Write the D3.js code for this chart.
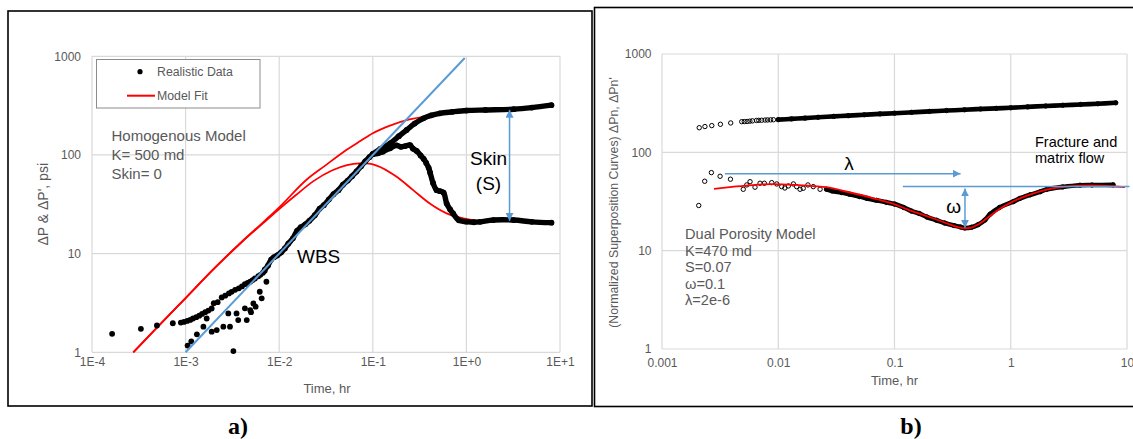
<!DOCTYPE html>
<html>
<head>
<meta charset="utf-8">
<script src="https://cdn.jsdelivr.net/npm/d3@7"></script>
<style>
  body { margin: 0; background: #fff; }
  svg { display: block; font-family: 'Liberation Sans', Arial, sans-serif; }
</style>
</head>
<body>
<div id="chart"></div>
<script>
// ---------- Panel a) homogeneous model ----------
const aTimeTicks = [1e-4, 1e-3, 1e-2, 1e-1, 1, 10];
const aTimeLabels = ['1E-4', '1E-3', '1E-2', '1E-1', '1E+0', '1E+1'];
const aValueTicks = [1, 10, 100, 1000];

// early scattered pressure points
const aPressureSparse = [[1.64e-4, 1.54], [3.33e-4, 1.73], [4.94e-4, 1.87], [7.3e-4, 1.97]];
// early pressure row
const aPressureRow = [
  [8.9e-4, 2.0], [9.6e-4, 2.03], [1.04e-3, 2.08], [1.12e-3, 2.13], [1.2e-3, 2.2], [1.3e-3, 2.27],
  [1.4e-3, 2.35], [1.5e-3, 2.45], [1.62e-3, 2.55], [1.75e-3, 2.65], [1.9e-3, 2.78], [2.0e-3, 3.15],
  [2.2e-3, 3.22], [2.43e-3, 3.6], [2.65e-3, 3.75], [2.9e-3, 3.95], [3.1e-3, 4.1], [3.38e-3, 4.3],
  [3.7e-3, 4.45], [4.0e-3, 4.65], [4.3e-3, 4.9], [4.6e-3, 5.05], [4.9e-3, 5.2], [5.2e-3, 5.4],
  [5.5e-3, 5.6], [5.98e-3, 5.9], [6.3e-3, 6.1], [6.7e-3, 6.4], [7.0e-3, 6.7]
];
// early scattered derivative points
const aDerivSparse = [
  [1.05e-3, 1.17], [1.15e-3, 1.29], [1.32e-3, 1.52], [1.55e-3, 1.82], [1.68e-3, 2.2], [1.9e-3, 1.62],
  [2.15e-3, 1.68], [2.53e-3, 1.82], [2.86e-3, 2.48], [2.98e-3, 1.82], [3.24e-3, 1.03], [3.5e-3, 2.48],
  [3.65e-3, 2.12], [4.3e-3, 2.79], [4.5e-3, 2.12], [4.9e-3, 2.68], [5.0e-3, 2.55], [5.3e-3, 3.13],
  [5.6e-3, 2.9], [6.2e-3, 4.11], [6.5e-3, 3.52], [7.3e-3, 5.19]
];
// merged data along the wellbore storage line
const aMainDense = [
  [7e-3, 6.9], [7.6e-3, 7.6], [8.2e-3, 8.7], [8.8e-3, 9.2], [9.5e-3, 9.6], [1.05e-2, 10.3],
  [1.15e-2, 11.3], [1.25e-2, 12.6], [1.4e-2, 14.3], [1.55e-2, 17.0], [1.7e-2, 18.5], [1.9e-2, 19.8],
  [2.1e-2, 21.5], [2.4e-2, 24.5], [2.7e-2, 28.5], [3.0e-2, 31], [3.4e-2, 35.5], [3.8e-2, 40],
  [4.3e-2, 44], [4.8e-2, 50], [5.4e-2, 55], [6.0e-2, 61], [6.7e-2, 68], [7.5e-2, 77],
  [8.3e-2, 86], [9.2e-2, 95], [0.1, 102]
];
const aPressureLate = [
  [0.1, 102], [0.12, 115], [0.153, 131], [0.19, 155], [0.23, 179], [0.28, 208], [0.347, 235],
  [0.42, 252], [0.52, 264], [0.7, 273], [1.0, 282], [1.6, 286], [3.2, 291], [5, 302], [8.1, 320]
];
const aDerivLate = [
  [0.1, 102], [0.113, 104], [0.128, 108], [0.153, 117], [0.18, 125], [0.2, 121], [0.222, 123],
  [0.25, 126], [0.268, 116], [0.294, 110], [0.324, 99], [0.35, 91], [0.372, 83], [0.395, 74],
  [0.41, 66], [0.44, 52], [0.48, 44], [0.52, 43], [0.57, 41.5], [0.615, 32.3], [0.67, 28],
  [0.72, 25.5], [0.83, 21.8], [1.0, 21.1], [1.2, 20.8], [1.4, 21], [1.94, 21.9], [3.2, 21.9],
  [5, 21], [8.1, 20.6]
];
const aModelPressure = [
  [2.76e-4, 1], [5e-4, 1.8], [1e-3, 3.55], [2e-3, 7], [4e-3, 13.2], [7e-3, 21.5], [0.01, 29.5],
  [0.02, 57], [0.031, 78], [0.049, 108], [0.075, 140], [0.1, 166], [0.15, 197], [0.24, 228], [0.39, 246]
];
const aModelDeriv = [
  [2.76e-4, 1], [5e-4, 1.8], [1e-3, 3.55], [2e-3, 7], [4e-3, 13.2], [7e-3, 21], [0.01, 28.3],
  [0.015, 39], [0.023, 54], [0.037, 70], [0.053, 79], [0.072, 82], [0.086, 82], [0.11, 78],
  [0.18, 60], [0.27, 44], [0.41, 32], [0.615, 25.6], [0.93, 22.8], [1.4, 21.5], [3.2, 21.3], [8.1, 20.3]
];
const aWbsLine = [[1e-3, 1], [0.96, 960]];
const aSkinArrow = [[2.89, 287], [2.89, 21.5]];

// ---------- Panel b) dual porosity model ----------
const bTimeTicks = [0.001, 0.01, 0.1, 1, 10];
const bTimeLabels = ['0.001', '0.01', '0.1', '1', '10'];
const bValueTicks = [1, 10, 100, 1000];

const bPressure = [
  [2.09e-3, 178], [2.34e-3, 183], [2.68e-3, 187], [3.18e-3, 193], [3.9e-3, 199],
  [4.85e-3, 205], [5.1e-3, 205.5], [5.4e-3, 206], [5.7e-3, 207.5], [6.0e-3, 209], [6.5e-3, 211],
  [6.8e-3, 211.5], [7.2e-3, 212], [7.7e-3, 213], [8.1e-3, 213.5], [8.6e-3, 214], [9.1e-3, 214.5],
  [0.01, 215], [0.013, 219], [0.017, 223], [0.022, 227], [0.03, 232], [0.04, 236], [0.055, 241],
  [0.075, 246], [0.1, 250], [0.14, 255], [0.2, 261], [0.28, 266], [0.4, 271], [0.55, 276],
  [0.75, 280], [1, 284], [1.4, 290], [2, 296], [2.8, 301], [4, 307], [5.6, 312], [8, 319]
];
const bDeriv = [
  [2.07e-3, 28.8], [2.33e-3, 50.8], [2.66e-3, 62.2], [3.16e-3, 57.1], [3.88e-3, 53.3],
  [5.0e-3, 42.1], [5.36e-3, 46.6], [5.72e-3, 50.3], [6.31e-3, 44.2], [6.97e-3, 48.5], [7.59e-3, 48.5],
  [8.79e-3, 49.2], [9.7e-3, 47.7], [0.0107, 44.8], [0.0114, 43.4], [0.0122, 45.5], [0.0135, 47.7],
  [0.0144, 44.8], [0.0154, 42.1], [0.0164, 43.1], [0.018, 46.6], [0.02, 44.8], [0.0229, 42.1],
  [0.026, 42.1], [0.029, 40.5], [0.035, 39], [0.041, 37.5], [0.05, 35.5], [0.058, 34], [0.07, 32.5],
  [0.085, 31], [0.1, 29.8], [0.12, 27.5], [0.14, 25.3], [0.163, 23.9], [0.19, 22], [0.23, 20.4],
  [0.27, 19.1], [0.325, 18.0], [0.37, 17.4], [0.404, 17.0], [0.46, 17.3], [0.525, 18.4], [0.6, 20.5],
  [0.664, 23.5], [0.8, 27.5], [1.05, 31.5], [1.2, 34], [1.47, 37], [1.8, 39.8], [2.04, 42],
  [2.8, 44.5], [3.94, 46.3], [5, 46.5], [7.6, 46.7]
];
const bModel = [
  [2.8e-3, 42.6], [4e-3, 44.5], [6e-3, 46.5], [9e-3, 47.5], [0.014, 46.6], [0.02, 45.3],
  [0.026, 44.2], [0.04, 39.5], [0.066, 34.1], [0.1, 29.6], [0.127, 26.5], [0.2, 22],
  [0.28, 19.0], [0.35, 17.4], [0.404, 16.9], [0.46, 17.2], [0.53, 18.6], [0.62, 21.2],
  [0.75, 25.2], [1, 30.8], [1.4, 36.5], [2, 41.5], [3, 44.8], [5, 46], [9.6, 44.2]
];
const bLambdaArrow = [[3.48e-3, 60.7], [0.37, 60.7]];
const bOmegaLine = [[0.118, 44.8], [10.5, 44.8]];
const bOmegaArrow = [[0.404, 43], [0.404, 17.1]];

// ---------- Drawing ----------
const width = 1133;
const height = 439;
const tickColor = '#595959';
const gridColor = '#d9d9d9';
const blue = '#5b9bd5';

const svg = d3.select('#chart')
  .append('svg')
  .attr('width', width)
  .attr('height', height);

svg.append('rect').attr('width', width).attr('height', height).attr('fill', '#fff');

const defs = svg.append('defs');
defs.append('marker')
  .attr('id', 'arrowBlue')
  .attr('viewBox', '0 0 10 10')
  .attr('refX', 10)
  .attr('refY', 5)
  .attr('markerUnits', 'userSpaceOnUse')
  .attr('markerWidth', 8)
  .attr('markerHeight', 8)
  .attr('orient', 'auto-start-reverse')
  .append('path')
  .attr('d', 'M0,0 L10,5 L0,10 z')
  .attr('fill', blue);

// Panel frames
svg.append('rect')
  .attr('x', 8).attr('y', 11).attr('width', 584).attr('height', 395)
  .attr('fill', 'none').attr('stroke', '#000').attr('stroke-width', 1.6);
svg.append('rect')
  .attr('x', 594.5).attr('y', 7.5).attr('width', 560).attr('height', 399)
  .attr('fill', 'none').attr('stroke', '#000').attr('stroke-width', 1.6);

function drawFrame(x, y, xTicks, xLabels, yTicks, xPad, yPad) {
  const [x0, x1] = x.range();
  const [y0, y1] = y.range();
  const g = svg.append('g');
  g.selectAll('.vgrid').data(xTicks).enter().append('line')
    .attr('x1', d => x(d)).attr('x2', d => x(d))
    .attr('y1', y0).attr('y2', y1)
    .attr('stroke', gridColor).attr('stroke-width', 1.2);
  g.selectAll('.hgrid').data(yTicks).enter().append('line')
    .attr('y1', d => y(d)).attr('y2', d => y(d))
    .attr('x1', x0).attr('x2', x1)
    .attr('stroke', gridColor).attr('stroke-width', 1.2);

  svg.append('g')
    .attr('transform', `translate(0, ${y0})`)
    .style('font-size', '12px')
    .call(d3.axisBottom(x).tickValues(xTicks).tickFormat((d, i) => xLabels[i]).tickSize(0).tickPadding(xPad))
    .call(a => a.select('.domain').remove())
    .selectAll('text').attr('fill', tickColor).style('font-family', "'Liberation Sans', Arial, sans-serif");

  svg.append('g')
    .attr('transform', `translate(${x0}, 0)`)
    .style('font-size', '12px')
    .call(d3.axisLeft(y).tickValues(yTicks).tickFormat(d3.format('d')).tickSize(0).tickPadding(yPad))
    .call(a => a.select('.domain').remove())
    .selectAll('text').attr('fill', tickColor).style('font-family', "'Liberation Sans', Arial, sans-serif");
}

function addText(x, y, txt, size, color, anchor = 'start', extra = {}) {
  const t = svg.append('text')
    .attr('x', x).attr('y', y)
    .attr('text-anchor', anchor)
    .style('font-size', size + 'px')
    .attr('fill', color)
    .text(txt);
  Object.entries(extra).forEach(([k, v]) => t.attr(k, v));
  return t;
}

// ===== Panel a =====
const xA = d3.scaleLog().domain([1e-4, 10]).range([92, 560]);
const yA = d3.scaleLog().domain([1, 1000]).range([352.3, 56.3]);
drawFrame(xA, yA, aTimeTicks, aTimeLabels, aValueTicks, 5.5, 11);

const lineA = d3.line().x(d => xA(d[0])).y(d => yA(d[1]));
const smoothA = d3.line().x(d => xA(d[0])).y(d => yA(d[1])).curve(d3.curveMonotoneX);

// model fit curves
[aModelPressure, aModelDeriv].forEach(s => {
  svg.append('path').attr('d', smoothA(s))
    .attr('fill', 'none').attr('stroke', '#ff0000').attr('stroke-width', 1.8);
});

// dense realistic data
[aMainDense.concat(aPressureLate.slice(1)), aDerivLate].forEach(s => {
  svg.append('path').attr('d', lineA.curve(d3.curveCatmullRom)(s))
    .attr('fill', 'none').attr('stroke', '#000').attr('stroke-width', 5.4)
    .attr('stroke-linejoin', 'round').attr('stroke-linecap', 'round');
});

const aDots = [].concat(aPressureSparse, aPressureRow, aDerivSparse, aMainDense, aPressureLate, aDerivLate);
svg.append('g').selectAll('circle').data(aDots).enter().append('circle')
  .attr('cx', d => xA(d[0])).attr('cy', d => yA(d[1])).attr('r', 2.9).attr('fill', '#000');

// WBS unit slope line
svg.append('path').attr('d', d3.line().x(d => xA(d[0])).y(d => yA(d[1]))(aWbsLine))
  .attr('stroke', blue).attr('stroke-width', 2).attr('fill', 'none');

// Skin arrow
svg.append('path').attr('d', d3.line().x(d => xA(d[0])).y(d => yA(d[1]))(aSkinArrow))
  .attr('stroke', blue).attr('stroke-width', 1.5).attr('fill', 'none')
  .attr('marker-start', 'url(#arrowBlue)').attr('marker-end', 'url(#arrowBlue)');

addText(488.5, 165, 'Skin', 19, '#000', 'middle');
addText(488.5, 190, '(S)', 19, '#000', 'middle');
addText(297, 263, 'WBS', 19, '#000');

// Legend
svg.append('rect').attr('x', 96.5).attr('y', 59.5).attr('width', 163.5).attr('height', 48.5)
  .attr('fill', '#fff').attr('stroke', '#8c8c8c').attr('stroke-width', 1);
svg.append('circle').attr('cx', 140).attr('cy', 71.7).attr('r', 2.6).attr('fill', '#000');
svg.append('line').attr('x1', 127).attr('x2', 155).attr('y1', 95.7).attr('y2', 95.7)
  .attr('stroke', '#ff0000').attr('stroke-width', 2);
addText(157, 76.2, 'Realistic Data', 12.3, tickColor);
addText(157, 100.2, 'Model Fit', 12.3, tickColor);

['Homogenous Model', 'K= 500 md', 'Skin= 0'].forEach((t, i) => {
  addText(111.5, 141 + i * 19, t, 15, tickColor);
});

addText(327, 392.5, 'Time, hr', 13, tickColor, 'middle');
addText(0, 0, 'ΔP & ΔP\', psi', 14, tickColor, 'middle',
  {transform: 'translate(47.5, 204.3) rotate(-90)'});

// ===== Panel b =====
const xB = d3.scaleLog().domain([0.001, 10]).range([662, 1127]);
const yB = d3.scaleLog().domain([1, 1000]).range([349, 54]);
drawFrame(xB, yB, bTimeTicks, bTimeLabels, bValueTicks, 9.5, 10.5);

const lineB = d3.line().x(d => xB(d[0])).y(d => yB(d[1])).curve(d3.curveCatmullRom);

// dense bands
[bPressure.filter(d => d[0] >= 0.0095), bDeriv.filter(d => d[0] >= 0.024)].forEach(s => {
  svg.append('path').attr('d', lineB(s))
    .attr('fill', 'none').attr('stroke', '#000').attr('stroke-width', 4.6)
    .attr('stroke-linejoin', 'round').attr('stroke-linecap', 'round');
});

svg.append('g').selectAll('circle').data(bPressure.concat(bDeriv)).enter().append('circle')
  .attr('cx', d => xB(d[0])).attr('cy', d => yB(d[1])).attr('r', 2.2)
  .attr('fill', 'none').attr('stroke', '#000').attr('stroke-width', 1);

svg.append('path').attr('d', d3.line().x(d => xB(d[0])).y(d => yB(d[1])).curve(d3.curveMonotoneX)(bModel))
  .attr('fill', 'none').attr('stroke', '#ff0000').attr('stroke-width', 1.8);

const straightB = d3.line().x(d => xB(d[0])).y(d => yB(d[1]));
svg.append('path').attr('d', straightB(bLambdaArrow))
  .attr('stroke', blue).attr('stroke-width', 1.5).attr('fill', 'none')
  .attr('marker-end', 'url(#arrowBlue)');
svg.append('path').attr('d', straightB(bOmegaLine))
  .attr('stroke', blue).attr('stroke-width', 1.5).attr('fill', 'none');
svg.append('path').attr('d', straightB(bOmegaArrow))
  .attr('stroke', blue).attr('stroke-width', 1.5).attr('fill', 'none')
  .attr('marker-start', 'url(#arrowBlue)').attr('marker-end', 'url(#arrowBlue)');

addText(849, 169.5, 'λ', 19, '#000', 'middle');
addText(961, 213, 'ω', 19, '#000', 'end');
addText(1035, 146.8, 'Fracture and', 14.5, '#000');
addText(1035, 162.6, 'matrix flow', 14.5, '#000');

['Dual Porosity Model', 'K=470 md', 'S=0.07', 'ω=0.1', 'λ=2e-6'].forEach((t, i) => {
  addText(685, 239.4 + i * 16.5, t, 14.6, tickColor);
});

addText(894.5, 384.5, 'Time, hr', 13, tickColor, 'middle');
addText(0, 0, '(Normalized Superposition Curves) ΔPn, ΔPn\'', 12.3, tickColor, 'middle',
  {transform: 'translate(618.3, 202.5) rotate(-90)'});

// Panel captions
addText(238, 434, 'a)', 24, '#000', 'middle', {'font-weight': 'bold', 'font-family': "'Liberation Serif', 'Times New Roman', serif"});
addText(911, 434, 'b)', 24, '#000', 'middle', {'font-weight': 'bold', 'font-family': "'Liberation Serif', 'Times New Roman', serif"});
</script>
</body>
</html>
